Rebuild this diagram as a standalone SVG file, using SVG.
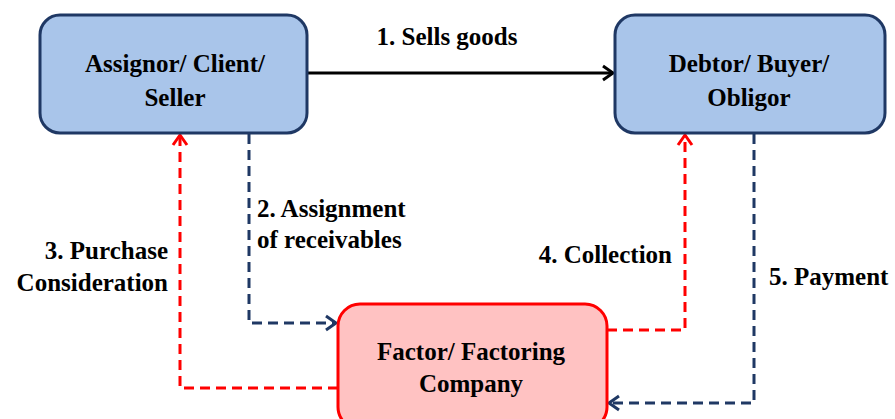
<svg xmlns="http://www.w3.org/2000/svg" width="895" height="419" viewBox="0 0 895 419">
<style>
.t{font-family:"Liberation Serif","Times New Roman","DejaVu Serif",serif;font-weight:bold;font-size:25px;fill:#000}
.c{text-anchor:middle}
.e{text-anchor:end}
.blue{fill:#A9C5EA;stroke:#1F3864;stroke-width:3}
.red{fill:#FFC2C2;stroke:#FF0000;stroke-width:3}
.dn{fill:none;stroke:#1F3864;stroke-width:3;stroke-dasharray:10 6}
.dr{fill:none;stroke:#FF0000;stroke-width:3;stroke-dasharray:10 6}
</style>
<defs>
<marker id="ak" markerWidth="16" markerHeight="18" refX="12" refY="9" orient="auto" markerUnits="userSpaceOnUse"><path d="M2,2 L12,9 L2,16" fill="none" stroke="#000" stroke-width="3"/></marker>
<marker id="an" markerWidth="16" markerHeight="18" refX="12" refY="9" orient="auto" markerUnits="userSpaceOnUse"><path d="M2,2 L12,9 L2,16" fill="none" stroke="#1F3864" stroke-width="3"/></marker>
<marker id="ar" markerWidth="16" markerHeight="18" refX="12" refY="9" orient="auto" markerUnits="userSpaceOnUse"><path d="M2,2 L12,9 L2,16" fill="none" stroke="#FF0000" stroke-width="3"/></marker>
</defs>
<g id="connectors">
<line x1="307" y1="73" x2="613" y2="73" stroke="#000" stroke-width="3" marker-end="url(#ak)"/>
<polyline class="dn" points="249,134 249,323 336,323" marker-end="url(#an)"/>
<polyline class="dr" points="338,388 180,388 180,135" marker-end="url(#ar)"/>
<polyline class="dr" points="607,330 685,330 685,135" marker-end="url(#ar)"/>
<polyline class="dn" points="754,134 754,403 609,403" marker-end="url(#an)"/>
</g>
<g id="assignor">
<rect class="blue" x="40" y="15" width="267" height="118" rx="20"/>
<text class="t c" x="175" y="72">Assignor/ Client/</text>
<text class="t c" x="175" y="106">Seller</text>
</g>
<g id="debtor">
<rect class="blue" x="615" y="15" width="270" height="118" rx="20"/>
<text class="t c" x="749" y="72">Debtor/ Buyer/</text>
<text class="t c" x="749" y="106">Obligor</text>
</g>
<g id="factor">
<rect class="red" x="338" y="304" width="269" height="125" rx="22"/>
<text class="t c" x="471" y="360">Factor/ Factoring</text>
<text class="t c" x="471" y="392">Company</text>
</g>
<g id="labels">
<text class="t c" x="447" y="45">1. Sells goods</text>
<text class="t" x="257" y="217">2. Assignment</text>
<text class="t" x="257" y="248">of receivables</text>
<text class="t e" x="168" y="259">3. Purchase</text>
<text class="t e" x="168" y="291">Consideration</text>
<text class="t e" x="672" y="263">4. Collection</text>
<text class="t" x="769" y="285">5. Payment</text>
</g>
</svg>
